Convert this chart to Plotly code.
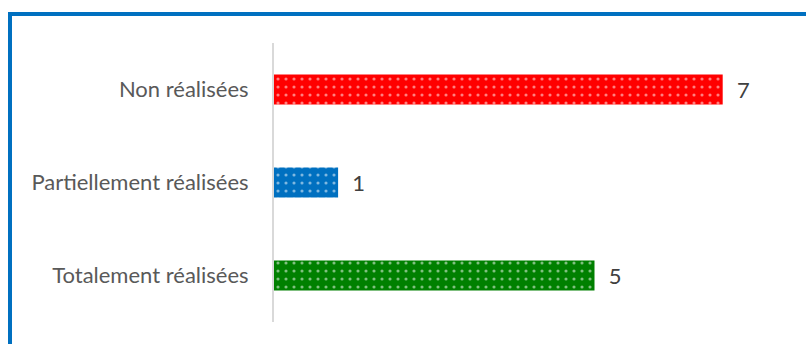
import plotly.graph_objects as go

categories = ["Totalement réalisées", "Partiellement réalisées", "Non réalisées"]
values = [5, 1, 7]
colors = ["#008000", "#0070C0", "#FF0000"]

W, H = 806, 344
ML, MR, MT, MB = 274, 16, 43, 22
pw = W - ML - MR
ph = H - MT - MB
xmax = pw / 64.1

def px_x(p):
    return (p - ML) / pw

def px_y(p):
    return (H - MB - p) / ph

fig = go.Figure()
fig.add_trace(go.Bar(
    y=categories, x=values, orientation="h",
    width=0.32,
    marker=dict(color=colors, line=dict(width=0),
                pattern=dict(shape=".", fgcolor="white", bgcolor=colors,
                             size=8, solidity=0.12, fillmode="overlay")),
    text=["\u00a0\u00a0" + str(v) for v in values], textposition="outside",
    textfont=dict(family="Lato, sans-serif", size=22, color="#404040"),
    cliponaxis=False,
))

fig.update_layout(
    width=W, height=H,
    margin=dict(l=ML, r=MR, t=MT, b=MB),
    paper_bgcolor="white", plot_bgcolor="white",
    showlegend=False,
    xaxis=dict(range=[0, xmax], showgrid=False, zeroline=False,
               showticklabels=False, showline=False, fixedrange=True),
    yaxis=dict(range=[-0.5, 2.5], showgrid=False, zeroline=False,
               showline=True, linecolor="#D9D9D9", linewidth=2,
               ticks="", ticklabelstandoff=19,
               tickfont=dict(family="Lato, sans-serif", size=22, color="#595959")),
    shapes=[dict(type="rect", xref="paper", yref="paper",
                 x0=px_x(10), x1=px_x(1000), y0=px_y(14), y1=px_y(600),
                 line=dict(color="#0070C0", width=4), fillcolor="rgba(0,0,0,0)",
                 layer="above")],
)

fig.write_html("out.html")
